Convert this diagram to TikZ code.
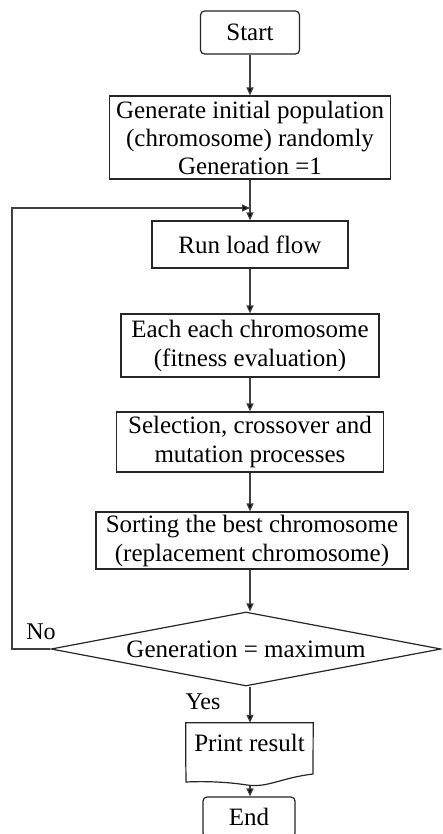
\documentclass[tikz,border=0pt]{standalone}
\usepackage{fontspec}
\setmainfont{Liberation Serif}
\usetikzlibrary{shapes.geometric,arrows.meta}
\begin{document}
\begin{tikzpicture}[x=1pt,y=-1pt,
  every node/.style={font=\fontsize{25}{29}\selectfont, inner sep=0pt},
  box/.style={draw=black!85, line width=1.2pt, rectangle, align=center},
  rbox/.style={box, rounded corners=4pt},
  dec/.style={draw=black!85, line width=1.2pt, diamond, inner sep=0pt},
  arr/.style={draw=black!75, line width=1.2pt, -{Triangle[length=8pt,width=7pt,fill=black]}},
  lbl/.style={font=\fontsize{24}{28}\selectfont}
]
\clip (0,0) rectangle (442,834);
\fill[white] (0,0) rectangle (442,834);

\node[rbox, minimum width=99pt, minimum height=43pt] (start) at (250,32.5) {Start};
\node[box, minimum width=281pt, minimum height=83pt, font=\fontsize{25}{28}\selectfont] (gen) at (250,137.5)
  {Generate initial population\\(chromosome) randomly\\Generation =1};
\node[box, minimum width=196pt, minimum height=47pt] (run) at (250,244.5) {Run load flow};
\node[box, minimum width=258pt, minimum height=63pt] (each) at (250,345.5)
  {Each each chromosome\\(fitness evaluation)};
\node[box, minimum width=267pt, minimum height=60pt] (sel) at (250,442)
  {Selection, crossover and\\mutation processes};
\node[box, minimum width=312pt, minimum height=57pt] (sort) at (252,540.5)
  {Sorting the best chromosome\\(replacement chromosome)};
\node[dec, minimum width=390pt, minimum height=74pt,
  label={[font=\fontsize{25}{29}\selectfont]center:Generation = maximum}] (dec) at (246,649) {};
\node[minimum width=127pt, minimum height=39pt] (print) at (249.5,742.5) {Print result};
\draw[draw=black!85, line width=1.2pt] (print.south west) -- (print.north west) -- (print.north east)
  -- (313,774) .. controls (280,778) and (268,788) .. (247,785)
  .. controls (228,782) and (205,781) .. (186,782) -- (print.south west);
\node[rbox, minimum width=92pt, minimum height=40pt] (end) at (249,817) {End};

\coordinate (j) at (250,208);
\coordinate (pb) at (250,786);

\draw[arr] (start) -- (start.south |- gen.north);
\draw[arr] (gen.south -| j) -- (j |- run.north);
\draw[arr] (run) -- (run.south |- each.north);
\draw[arr] (each) -- (each.south |- sel.north);
\draw[arr] (sel) -- (sel.south |- sort.north);
\draw[arr] (sort.south -| j) -- (j |- dec.north);
\draw[arr] (j |- dec.south) -- (j |- print.north);
\draw[arr] (pb) -- (pb |- end.north);
\draw[arr] (dec.west) -- (12,649) -- (12,208) -- (j);

\node[lbl] (no) at (41,632) {No};
\node[lbl] (yes) at (203,702) {Yes};
\end{tikzpicture}
\end{document}
